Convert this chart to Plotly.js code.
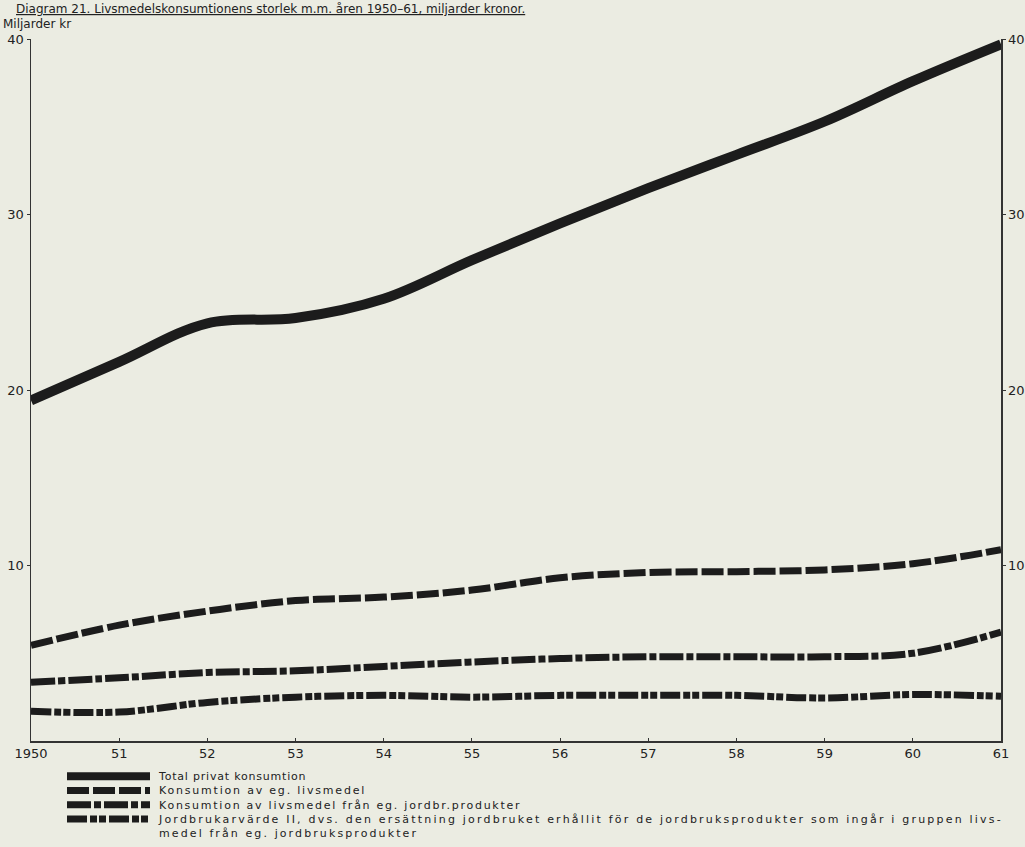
<!DOCTYPE html>
<html>
<head>
<meta charset="utf-8">
<script src="https://cdn.plot.ly/plotly-3.0.1.min.js"></script>
<style>
html,body{margin:0;padding:0;background:#ebece2;}
#chart{width:1025px;height:847px;}
</style>
</head>
<body>
<div id="chart"></div>
<script>
// Years 1950–1961
const years = [1950,1951,1952,1953,1954,1955,1956,1957,1958,1959,1960,1961];
const tickLabels = ["1950","51","52","53","54","55","56","57","58","59","60","61"];
const yTicks = [10,20,30,40];

// Miljarder kronor
const totalPrivat = [19.4,21.6,23.8,24.1,25.2,27.4,29.5,31.5,33.4,35.3,37.6,39.7];
const konsLivsmedel = [5.45,6.6,7.4,8.0,8.2,8.6,9.3,9.6,9.65,9.75,10.1,10.9];
const konsJordbr = [3.35,3.6,3.9,4.0,4.25,4.5,4.7,4.8,4.8,4.8,5.0,6.2];
const jordbrukarvarde = [1.7,1.65,2.2,2.5,2.6,2.5,2.6,2.6,2.6,2.45,2.65,2.55];

const seriesNames = [
  "Total privat konsumtion",
  "Konsumtion av eg. livsmedel",
  "Konsumtion av livsmedel från eg. jordbr.produkter",
  "Jordbrukarvärde II, dvs. den ersättning jordbruket erhållit för de jordbruksprodukter som ingår i gruppen livs-",
  "medel från eg. jordbruksprodukter"
];
const legendSpacing = [0.8, 1.8, 1.75, 2.2, 2.1];

const ink = "#1c1c1c";
const font = "DejaVu Sans, sans-serif";

const styles = [
  {width: 10, dash: "solid"},
  {width: 7, dash: "22px,4px"},
  {width: 7, dash: "24px,3px,7px,3px"},
  {width: 7, dash: "20px,3px,7px,2px,7px,3px"}
];
const seriesData = [totalPrivat, konsLivsmedel, konsJordbr, jordbrukarvarde];

const traces = seriesData.map((ys, i) => ({
  x: years, y: ys, name: seriesNames[i], mode: "lines", showlegend: false,
  line: {color: ink, width: styles[i].width, shape: "spline", dash: styles[i].dash}
}));
traces.push({x: [years[0]], y: [0], yaxis: "y2", mode: "lines", showlegend: false,
  hoverinfo: "skip", line: {color: "rgba(0,0,0,0)"}});

// Plot-area geometry (pixels) for placing the hand-made legend
const L = 31, R = 24, T = 39, B = 106, W = 1025, H = 847;
const pw = W - L - R, ph = H - T - B;
const px = v => (v - L) / pw;
const py = v => (H - B - v) / ph;

const legendFont = 11, lineH = legendFont * 1.3, legendTop = 769;
const shapes = styles.map((s, i) => {
  const yy = legendTop + lineH / 2 + i * lineH;
  return {
    type: "line", xref: "paper", yref: "paper",
    x0: px(67), x1: px(150), y0: py(yy), y1: py(yy),
    line: {color: ink, width: Math.min(s.width, 8), dash: s.dash}
  };
});

const legendText = seriesNames.map((t, i) =>
  `<span style="letter-spacing:${legendSpacing[i]}px">${t}</span>`).join("<br>");

const layout = {
  width: W, height: H,
  paper_bgcolor: "#ebece2", plot_bgcolor: "#ebece2",
  margin: {l: L, r: R, t: T, b: B},
  font: {family: font, color: "#222", size: 13},
  showlegend: false,
  xaxis: {
    range: [1950, 1961], tickvals: years, ticktext: tickLabels,
    showgrid: false, zeroline: false, showline: true, linecolor: "#333", linewidth: 1.5,
    ticks: "inside", ticklen: 3, tickcolor: "#333",
    tickfont: {family: font, size: 13, color: "#222"}
  },
  yaxis: {
    range: [0, 40], tickvals: yTicks, ticktext: yTicks.map(String),
    showgrid: false, zeroline: false, showline: true, linecolor: "#333", linewidth: 1.5,
    ticks: "outside", ticklen: 3, tickcolor: "#333",
    tickfont: {family: font, size: 13, color: "#222"}
  },
  yaxis2: {
    range: [0, 40], overlaying: "y", side: "right",
    tickvals: yTicks, ticktext: yTicks.map(String),
    showgrid: false, zeroline: false, showline: true, linecolor: "#333", linewidth: 1.5,
    ticks: "outside", ticklen: 3, tickcolor: "#333",
    tickfont: {family: font, size: 13, color: "#222"}
  },
  shapes: shapes,
  annotations: [
    {text: "Miljarder kr", xref: "paper", yref: "paper", x: px(1), y: py(24),
     xanchor: "left", yanchor: "middle", showarrow: false,
     font: {family: font, size: 12, color: "#222"}},
    {text: "<u>Diagram 21. Livsmedelskonsumtionens storlek m.m. åren 1950–61, miljarder kronor.</u>",
     xref: "paper", yref: "paper", x: px(14), y: py(0),
     xanchor: "left", yanchor: "top", showarrow: false,
     font: {family: font, size: 12, color: "#222"}},
    {text: legendText, xref: "paper", yref: "paper", x: px(157), y: py(legendTop),
     xanchor: "left", yanchor: "top", align: "left", showarrow: false, borderpad: 0,
     font: {family: font, size: legendFont, color: "#222"}}
  ]
};

Plotly.newPlot("chart", traces, layout, {displayModeBar: false, staticPlot: true});
</script>
</body>
</html>
